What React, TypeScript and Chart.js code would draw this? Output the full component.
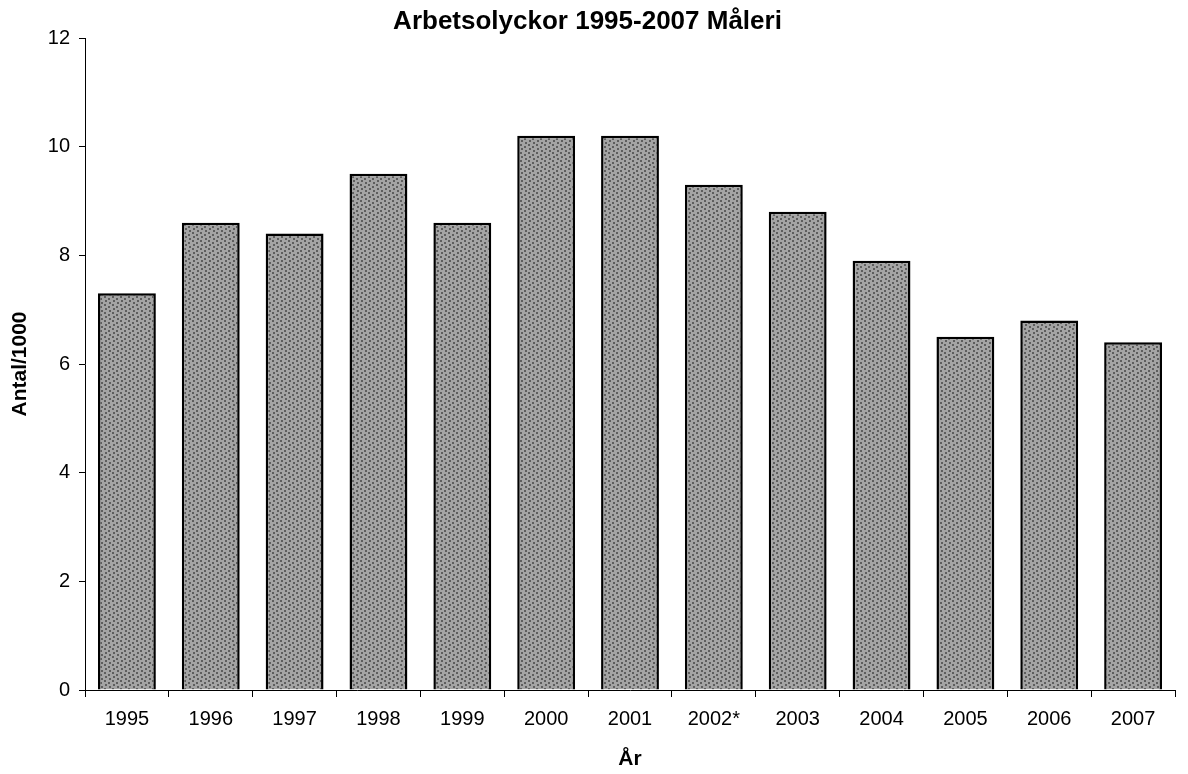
import React, { useEffect, useRef } from "react";
import { Chart, registerables } from "chart.js";

Chart.register(...registerables);

const categories = ["1995", "1996", "1997", "1998", "1999", "2000", "2001", "2002*", "2003", "2004", "2005", "2006", "2007"];
const values = [7.3, 8.6, 8.4, 9.5, 8.6, 10.2, 10.2, 9.3, 8.8, 7.9, 6.5, 6.8, 6.4];
const chartTitle = "Arbetsolyckor 1995-2007 Måleri";
const xTitle = "År";
const yTitle = "Antal/1000";

function makePattern(): CanvasPattern | string {
  const c = document.createElement("canvas");
  c.width = 8;
  c.height = 8;
  const ctx = c.getContext("2d");
  if (!ctx) return "#999";
  ctx.fillStyle = "#a4a4a4";
  ctx.fillRect(0, 0, 8, 8);
  ctx.fillStyle = "#5e5e5e";
  ctx.fillRect(0, 0, 2, 2);
  ctx.fillRect(4, 2, 2, 2);
  ctx.fillRect(1, 4, 2, 2);
  ctx.fillRect(5, 6, 2, 2);
  return ctx.createPattern(c, "repeat") || "#999";
}

export default function App() {
  const ref = useRef<HTMLCanvasElement>(null);
  useEffect(() => {
    if (!ref.current) return;
    const font = "Arial, 'Liberation Sans', sans-serif";
    const chart = new Chart(ref.current, {
      type: "bar",
      data: {
        labels: categories,
        datasets: [
          {
            data: values,
            backgroundColor: makePattern() as any,
            borderColor: "#000",
            borderWidth: 2.5,
            borderSkipped: "bottom",
            categoryPercentage: 1,
            barPercentage: 0.69,
          },
        ],
      },
      options: {
        animation: false,
        responsive: false,
        layout: { padding: { top: 0, right: 13, left: 0, bottom: 0 } },
        plugins: {
          legend: { display: false },
          tooltip: { enabled: false },
          title: {
            display: true,
            text: chartTitle,
            color: "#000",
            font: { family: font, size: 26, weight: "bold", lineHeight: 1 },
            padding: { top: 9, bottom: 3 },
          },
        },
        scales: {
          x: {
            afterFit: (s: any) => { s.height = 84; },
            grid: { display: true, drawOnChartArea: false, drawTicks: true, tickLength: 7, color: "#000", offset: true },
            border: { display: true, color: "#000", width: 1 },
            ticks: { color: "#000", font: { family: font, size: 20 }, padding: 10, maxRotation: 0, autoSkip: false },
            title: { display: true, text: xTitle, color: "#000", font: { family: font, size: 21, weight: "bold" }, padding: { top: 0, bottom: 2 } },
          },
          y: {
            min: 0,
            max: 12,
            afterFit: (s: any) => { s.width = 85; },
            grid: { display: true, drawOnChartArea: false, drawTicks: true, tickLength: 6, color: "#000" },
            border: { display: true, color: "#000", width: 1 },
            ticks: { stepSize: 2, color: "#000", font: { family: font, size: 20 }, padding: 9 },
            title: { display: true, text: yTitle, color: "#000", font: { family: font, size: 21, weight: "bold" }, padding: { top: 8, bottom: 0 } },
          },
        },
      },
    });
    return () => chart.destroy();
  }, []);
  return (
    <div style={{ position: "absolute", left: 0, top: 0, width: 1188, height: 774, background: "#fff" }}>
      <canvas ref={ref} width={1188} height={774} />
    </div>
  );
}
